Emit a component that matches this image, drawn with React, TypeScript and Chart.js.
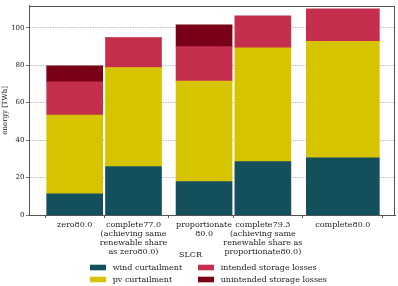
import React, { useEffect, useRef } from 'react';
import { Chart, registerables } from 'chart.js';

Chart.register(...registerables);

// ---- data ----
const categories: string[][] = [
  ['zero80.0'],
  ['complete77.0', '(achieving same', 'renewable share', 'as zero80.0)'],
  ['proportionate', '80.0'],
  ['complete79.3', '(achieving same', 'renewable share as', 'proportionate80.0)'],
  ['complete80.0'],
];
const xPositions = [0, 1, 2.2, 3.2, 4.56];
const seriesNames = [
  'wind curtailment',
  'pv curtailment',
  'intended storage losses',
  'unintended storage losses',
];
const windCurtailment = [11.3, 25.9, 17.9, 28.5, 30.6];
const pvCurtailment = [42.1, 52.9, 53.6, 60.8, 62.2];
const intendedStorageLosses = [17.7, 15.9, 18.4, 17.0, 17.2];
const unintendedStorageLosses = [8.6, 0, 11.7, 0, 0];
const yTicks = [0, 20, 40, 60, 80, 100];
const xAxisTitle = 'SLCR';
const yAxisTitle = 'energy [TWh]';

// ---- styles ----
const seriesColors = ['#144f5c', '#d6c400', '#c52e4c', '#7a0018'];
const barWidthsPx = [56, 56, 56, 56, 73];
const FONT = 'DejaVu Serif';
const FRAME = '#555555';
const TEXT = '#222222';

const seriesValues = [windCurtailment, pvCurtailment, intendedStorageLosses, unintendedStorageLosses];

function buildDatasets() {
  const widths = Array.from(new Set(barWidthsPx));
  const ds: any[] = [];
  widths.forEach((w, wi) => {
    seriesValues.forEach((vals, si) => {
      const data = xPositions
        .map((x, i) => ({ x, y: vals[i], i }))
        .filter((p) => barWidthsPx[p.i] === w)
        .map((p) => ({ x: p.x, y: p.y }));
      ds.push({
        label: seriesNames[si],
        data,
        backgroundColor: seriesColors[si],
        borderWidth: 0,
        barThickness: w,
        stack: 's',
        order: 0,
        _legend: wi === 0,
      });
    });
  });
  return ds;
}

const framePlugin = {
  id: 'frameAndLegend',
  afterDraw(chart: any) {
    const { ctx, chartArea } = chart;
    ctx.save();
    ctx.strokeStyle = FRAME;
    ctx.lineWidth = 1;
    ctx.strokeRect(
      Math.round(chartArea.left) + 0.5,
      Math.round(chartArea.top) + 0.5,
      Math.round(chartArea.right - chartArea.left) - 1,
      Math.round(chartArea.bottom - chartArea.top)
    );
    // x-axis title
    ctx.fillStyle = TEXT;
    ctx.font = `8px "${FONT}"`;
    ctx.textAlign = 'center';
    ctx.textBaseline = 'middle';
    ctx.fillText(xAxisTitle, 190.5, 254.5);
    // legend (2 columns)
    const cols = [90, 198];
    const rows = [267.5, 279.5];
    ctx.textAlign = 'left';
    seriesNames.forEach((name, i) => {
      const col = Math.floor(i / 2);
      const row = i % 2;
      const x = cols[col];
      const y = rows[row];
      ctx.fillStyle = seriesColors[i];
      ctx.fillRect(x, y - 2.8, 16, 5.6);
      ctx.fillStyle = TEXT;
      ctx.fillText(name, x + 22.7, y);
    });
    ctx.restore();
  },
};

export default function App() {
  const ref = useRef<HTMLCanvasElement>(null);
  useEffect(() => {
    if (!ref.current) return;
    const chart = new Chart(ref.current, {
      type: 'bar',
      data: { datasets: buildDatasets() },
      options: {
        animation: false,
        responsive: false,
        devicePixelRatio: 1,
        layout: { padding: { left: 0, right: 3, top: 1, bottom: 0 } },
        plugins: {
          legend: { display: false },
          tooltip: { enabled: false },
        },
        scales: {
          x: {
            type: 'linear',
            min: -0.777,
            max: 5.447,
            offset: false,
            afterFit: (s: any) => {
              s.height = 71;
            },
            afterBuildTicks: (s: any) => {
              s.ticks = xPositions.map((v) => ({ value: v }));
            },
            ticks: {
              autoSkip: false,
              maxRotation: 0,
              minRotation: 0,
              padding: 2,
              color: TEXT,
              font: { family: FONT, size: 8, lineHeight: 1.125 },
              callback: (_v: any, i: number) => categories[i],
            },
            grid: {
              display: true,
              drawOnChartArea: false,
              drawTicks: true,
              tickLength: 3,
              tickColor: FRAME,
              color: FRAME,
            },
            border: { display: true, color: FRAME, width: 1 },
          },
          y: {
            type: 'linear',
            stacked: true,
            min: 0,
            max: 111.8,
            afterFit: (s: any) => {
              s.width = 29;
            },
            afterBuildTicks: (s: any) => {
              s.ticks = yTicks.map((v) => ({ value: v }));
            },
            ticks: {
              padding: 1.5,
              color: TEXT,
              font: { family: FONT, size: 7 },
            },
            grid: {
              display: true,
              drawTicks: true,
              tickLength: 3,
              tickColor: FRAME,
              color: '#b0b0b0',
              lineWidth: 0.8,
            },
            border: { display: true, color: FRAME, width: 1, dash: [1.5, 1] },
            title: {
              display: true,
              text: yAxisTitle,
              color: TEXT,
              font: { family: FONT, size: 7 },
              padding: { top: 1, bottom: 0 },
            },
          },
        },
      },
      plugins: [framePlugin],
    } as any);
    return () => chart.destroy();
  }, []);
  return (
    <div style={{ position: 'fixed', left: 0, top: 0, width: 398, height: 286, background: '#fff' }}>
      <canvas ref={ref} width={398} height={286} style={{ display: 'block' }} />
    </div>
  );
}
